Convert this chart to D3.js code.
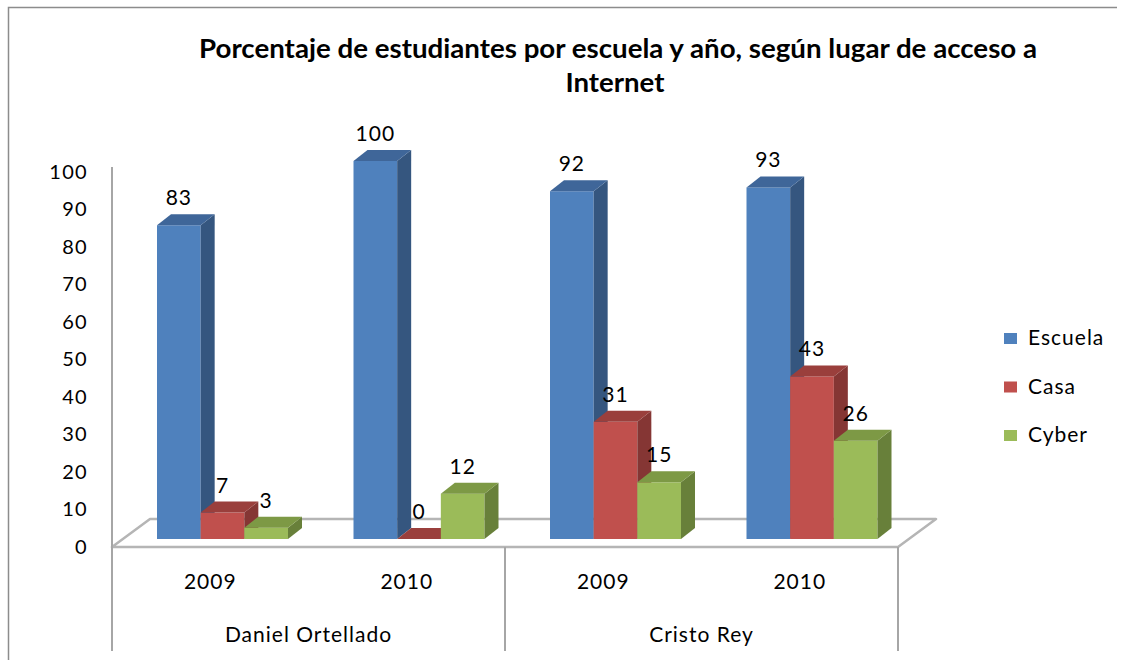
<!DOCTYPE html>
<html>
<head>
<meta charset="utf-8">
<script src="https://cdn.jsdelivr.net/npm/d3@7"></script>
<style>
  body { margin: 0; background: #fff; }
  svg { display: block; font-family: Lato, "Open Sans", sans-serif; }
</style>
</head>
<body>
<div id="chart"></div>
<script>
const schools = ["Daniel Ortellado", "Cristo Rey"];
const years = ["2009", "2010"];
const categories = ["Daniel Ortellado|2009", "Daniel Ortellado|2010", "Cristo Rey|2009", "Cristo Rey|2010"];
const seriesNames = ["Escuela", "Casa", "Cyber"];
const escuela = [83, 100, 92, 93];
const casa = [7, 0, 31, 43];
const cyber = [3, 12, 15, 26];
const yTicks = [0, 10, 20, 30, 40, 50, 60, 70, 80, 90, 100];

const colors = {
  Escuela: { front: "#4f81bd", side: "#35567f", top: "#3f6699" },
  Casa: { front: "#c0504d", side: "#853634", top: "#9a3f3c" },
  Cyber: { front: "#9bbb59", side: "#68803a", top: "#7d9945" }
};

const width = 1126;
const height = 663;
const left = 112, right = 898, base = 547;
const depth = { x: 38, y: 28 };
const bar = { dx: 14, dy: 11, bottom: 539 };

const svg = d3.select("#chart").append("svg")
  .attr("width", width)
  .attr("height", height);

// outer border (top + left visible)
svg.append("path")
  .attr("d", "M8.5,660 L8.5,7.5 L1117,7.5")
  .attr("fill", "none")
  .attr("stroke", "#8c8c8c")
  .attr("stroke-width", 1.5);

// title
svg.append("text")
  .attr("x", 618).attr("y", 58)
  .attr("text-anchor", "middle")
  .attr("font-weight", "bold")
  .attr("font-size", 26)
  .attr("textLength", 838)
  .attr("lengthAdjust", "spacingAndGlyphs")
  .text("Porcentaje de estudiantes por escuela y año, según lugar de acceso a");
svg.append("text")
  .attr("x", 615).attr("y", 92)
  .attr("text-anchor", "middle")
  .attr("font-weight", "bold")
  .attr("font-size", 26)
  .attr("textLength", 99)
  .attr("lengthAdjust", "spacingAndGlyphs")
  .text("Internet");

const x = d3.scaleBand().domain(categories).range([left, right]);
const xSchool = d3.scaleBand().domain(schools).range([left, right]);
const xSeries = d3.scaleBand().domain(seriesNames).range([45, 45 + 131]);
const yBar = d3.scaleLinear().domain([0, 100]).range([bar.bottom, 161]);
const yAxis = d3.scaleLinear().domain([0, 100]).range([base, 172]);

// floor
svg.append("path")
  .attr("d", `M${left},${base} L${right},${base} L${right + depth.x},${base - depth.y} L${left + depth.x},${base - depth.y} Z`)
  .attr("fill", "#fff")
  .attr("stroke", "#b5b5b5")
  .attr("stroke-width", 2.5)
  .attr("stroke-linejoin", "round");

// value axis
svg.append("line")
  .attr("x1", left).attr("x2", left)
  .attr("y1", 167).attr("y2", base)
  .attr("stroke", "#a6a6a6").attr("stroke-width", 2);

const yg = svg.append("g")
  .attr("transform", `translate(88,0)`)
  .call(d3.axisLeft(yAxis).tickValues(yTicks).tickSize(0).tickPadding(0));
yg.select(".domain").remove();
yg.selectAll("text")
  .attr("font-family", "Lato, sans-serif")
  .attr("font-size", 20)
  .attr("letter-spacing", 1.3)
  .attr("fill", "#000");

// bars
const rows = [];
categories.forEach((c, i) => {
  [escuela, casa, cyber].forEach((vals, j) => {
    rows.push({ cat: c, series: seriesNames[j], value: vals[i] });
  });
});

const bars = svg.append("g").selectAll("g")
  .data(rows)
  .join("g");

bars.each(function (d) {
  const g = d3.select(this);
  const x0 = x(d.cat) + xSeries(d.series);
  const x1 = x0 + xSeries.bandwidth();
  const yt = yBar(d.value);
  const yb = bar.bottom;
  const c = colors[d.series];
  if (d.value > 0) {
    g.append("rect")
      .attr("x", x0).attr("y", yt)
      .attr("width", x1 - x0).attr("height", yb - yt)
      .attr("fill", c.front);
  }
  g.append("path")
    .attr("d", `M${x1},${yt} L${x1 + bar.dx},${yt - bar.dy} L${x1 + bar.dx},${yb - bar.dy} L${x1},${yb} Z`)
    .attr("fill", c.side);
  g.append("path")
    .attr("d", `M${x0},${yt} L${x0 + bar.dx},${yt - bar.dy} L${x1 + bar.dx},${yt - bar.dy} L${x1},${yt} Z`)
    .attr("fill", c.top);
});

svg.append("g").selectAll("text")
  .data(rows)
  .join("text")
  .attr("x", (d) => x(d.cat) + xSeries(d.series) + xSeries.bandwidth() / 2)
  .attr("y", (d) => yBar(d.value) - 20)
  .attr("text-anchor", "middle")
  .attr("font-size", 21)
  .attr("letter-spacing", 1)
  .attr("fill", "#000")
  .text((d) => d.value);

// category axis
const sep = [left, left + xSchool.bandwidth(), right];
svg.append("g").selectAll("line")
  .data(sep)
  .join("line")
  .attr("x1", (d) => d).attr("x2", (d) => d)
  .attr("y1", base).attr("y2", 651)
  .attr("stroke", "#a6a6a6").attr("stroke-width", 2);

svg.append("g").selectAll("text")
  .data(categories)
  .join("text")
  .attr("x", (d) => x(d) + x.bandwidth() / 2)
  .attr("y", 589)
  .attr("text-anchor", "middle")
  .attr("font-size", 21)
  .attr("letter-spacing", 1)
  .attr("fill", "#000")
  .text((d) => d.split("|")[1]);

svg.append("g").selectAll("text")
  .data(schools)
  .join("text")
  .attr("x", (d) => xSchool(d) + xSchool.bandwidth() / 2)
  .attr("y", 642)
  .attr("text-anchor", "middle")
  .attr("font-size", 21)
  .attr("letter-spacing", 1)
  .attr("fill", "#000")
  .text((d) => d);

// legend
const legend = svg.append("g").selectAll("g")
  .data(seriesNames)
  .join("g")
  .attr("transform", (d, i) => `translate(1004,${333 + i * 48.5})`);
legend.append("rect")
  .attr("width", 13).attr("height", 11)
  .attr("fill", (d) => colors[d].front);
legend.append("text")
  .attr("x", 24).attr("y", 12)
  .attr("font-size", 21)
  .attr("letter-spacing", 1)
  .attr("fill", "#000")
  .text((d) => d);
</script>
</body>
</html>
